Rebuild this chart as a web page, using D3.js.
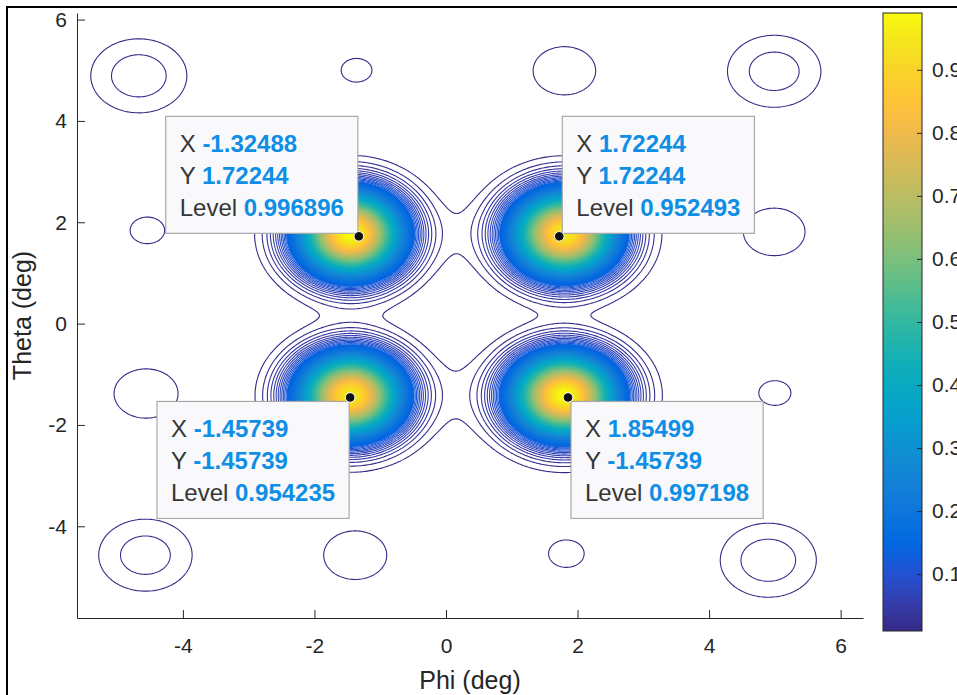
<!DOCTYPE html>
<html>
<head>
<meta charset="utf-8">
<script src="https://cdn.jsdelivr.net/npm/d3@7"></script>
<style>
  html, body { margin: 0; padding: 0; background: #fff; }
  svg { display: block; font-family: "Liberation Sans", Arial, Helvetica, sans-serif; }
</style>
</head>
<body>
<svg id="chart" width="957" height="695"></svg>
<script>
// ---- Beam pattern description (angles in degrees) ----
// Four main beams: centre, peak level and spread
const beamPhi         = [-1.45, 1.80, -1.45, 1.80];
const beamTheta       = [ 1.77, 1.77, -1.42, -1.42];
const beamPeak        = [ 1.00, 0.96,  0.96,  1.00];
const beamSpreadPhi   = [ 0.48, 0.49,  0.48,  0.49];
const beamSpreadTheta = [ 0.51, 0.51,  0.50,  0.50];

// Weak ridges joining neighbouring beams
const ridgePhi         = [0.175, 0.175, -1.39, 1.77];
const ridgeTheta       = [1.785, -1.39, 0.175, 0.175];
const ridgePeak        = [0.0060, 0.0068, 0.0025, 0.0005];
const ridgeSpreadPhi   = [0.30, 0.30, 0.60, 0.50];
const ridgeSpreadTheta = [0.55, 0.67, 0.35, 0.35];

// Side lobes
const sidePhi    = [-4.67, -1.36, 1.80, 4.99, -4.54, 4.99, -4.56, 5.00, -4.57, -1.38, 1.83, 4.90];
const sideTheta  = [ 4.89,  5.00, 4.99, 4.98,  1.84, 1.81, -1.38, -1.37, -4.57, -4.57, -4.54, -4.67];
const sidePeak   = [0.0276, 0.0110, 0.0153, 0.0261, 0.0113, 0.0151, 0.0156, 0.0111, 0.0261, 0.0154, 0.0114, 0.0276];
const sideSpread = 0.51;

// Data tips
const tipX     = [-1.32488, 1.72244, -1.45739, 1.85499];
const tipY     = [ 1.72244, 1.72244, -1.45739, -1.45739];
const tipLevel = [0.996896, 0.952493, 0.954235, 0.997198];

// Axes
const phiDomain   = [-5.61, 6.34];
const thetaDomain = [-5.81, 6.13];
const phiTicks    = [-4, -2, 0, 2, 4, 6];
const thetaTicks  = [-4, -2, 0, 2, 4, 6];
const colorTicks  = [0.1, 0.2, 0.3, 0.4, 0.5, 0.6, 0.7, 0.8, 0.9];

// Contour levels
const levelCount = 100;
const levelMax = 1.0;
const levels = d3.range(1, levelCount + 1).map(k => k * levelMax / (levelCount + 1));

// Parula colour map
const parulaStops = [
  [0.2081,0.1663,0.5292],[0.2081,0.2386,0.6771],[0.1253,0.3242,0.8303],[0.0060,0.4086,0.8828],
  [0.0498,0.4586,0.8641],[0.0779,0.5040,0.8384],[0.0641,0.5570,0.8240],[0.0265,0.6137,0.8135],
  [0.0228,0.6535,0.7768],[0.0590,0.6838,0.7254],[0.1453,0.7098,0.6646],[0.2586,0.7317,0.5954],
  [0.3953,0.7459,0.5244],[0.5300,0.7491,0.4661],[0.6473,0.7456,0.4188],[0.7525,0.7384,0.3768],
  [0.8507,0.7299,0.3360],[0.9450,0.7261,0.2886],[0.9990,0.7653,0.2164],[0.9789,0.8271,0.1633],
  [0.9589,0.8949,0.1132],[0.9763,0.9831,0.0538]
];

// ---- Layout ----
const W = 957, H = 695;
const plot = { left: 77, right: 863, top: 13, bottom: 618 };
const cbar = { left: 883, right: 922, top: 13, bottom: 631 };
const ink = "#262626";

const svg = d3.select("#chart");

const x = d3.scaleLinear().domain(phiDomain).range([plot.left, plot.right]);
const y = d3.scaleLinear().domain(thetaDomain).range([plot.bottom, plot.top]);

const parula = d3.scaleLinear()
  .domain(parulaStops.map((_, i) => i / (parulaStops.length - 1)))
  .range(parulaStops.map(c => d3.rgb(c[0] * 255, c[1] * 255, c[2] * 255)))
  .interpolate(d3.interpolateRgb)
  .clamp(true);
const cMin = levels[0], cMax = levels[levels.length - 1];
const levelColor = v => parula((v - cMin) / (cMax - cMin));

// ---- Field sampled on a grid ----
function field(p, t) {
  let z = 0;
  for (let k = 0; k < beamPhi.length; k++) {
    const u = (p - beamPhi[k]) / beamSpreadPhi[k], v = (t - beamTheta[k]) / beamSpreadTheta[k];
    z += beamPeak[k] * Math.exp(-0.5 * (u * u + v * v));
  }
  for (let k = 0; k < ridgePhi.length; k++) {
    const u = (p - ridgePhi[k]) / ridgeSpreadPhi[k], v = (t - ridgeTheta[k]) / ridgeSpreadTheta[k];
    z += ridgePeak[k] * Math.exp(-0.5 * (u * u + v * v));
  }
  for (let k = 0; k < sidePhi.length; k++) {
    const u = (p - sidePhi[k]) / sideSpread, v = (t - sideTheta[k]) / sideSpread;
    z += sidePeak[k] * Math.exp(-0.5 * (u * u + v * v));
  }
  return z;
}

const nx = 524, ny = 404;
const dPhi = (phiDomain[1] - phiDomain[0]) / (nx - 1);
const dTheta = (thetaDomain[1] - thetaDomain[0]) / (ny - 1);
const values = new Float64Array(nx * ny);
for (let j = 0; j < ny; j++) {
  const t = thetaDomain[1] - j * dTheta;
  for (let i = 0; i < nx; i++) {
    values[j * nx + i] = field(phiDomain[0] + i * dPhi, t);
  }
}

const contourSet = d3.contours().size([nx, ny]).thresholds(levels)(values);

const gridToScreen = d3.geoTransform({
  point(gx, gy) {
    this.stream.point(x(phiDomain[0] + (gx - 0.5) * dPhi), y(thetaDomain[1] - (gy - 0.5) * dTheta));
  }
});
const path = d3.geoPath(gridToScreen);

// ---- Drawing ----
svg.append("rect").attr("width", W).attr("height", H).attr("fill", "#fff");

svg.append("defs").append("clipPath").attr("id", "plot-clip")
  .append("rect")
  .attr("x", plot.left).attr("y", plot.top)
  .attr("width", plot.right - plot.left).attr("height", plot.bottom - plot.top);

const contourLayer = svg.append("g").attr("clip-path", "url(#plot-clip)");

// dense inner levels are painted as bands, every level is stroked
const fillFrom = 0.12;
contourLayer.append("g")
  .selectAll("path")
  .data(contourSet.filter(c => c.value >= fillFrom))
  .join("path")
  .attr("d", path)
  .attr("fill", d => levelColor(d.value))
  .attr("stroke", "none");

contourLayer.append("g")
  .selectAll("path")
  .data(contourSet)
  .join("path")
  .attr("d", path)
  .attr("fill", "none")
  .attr("stroke", d => levelColor(d.value))
  .attr("stroke-width", 1.1)
  .attr("stroke-linejoin", "round");

// Axes
const fmt = d => String(d);
const xAxis = svg.append("g")
  .attr("transform", `translate(0,${plot.bottom})`)
  .call(d3.axisBottom(x).tickValues(phiTicks).tickFormat(fmt).tickSizeInner(-8).tickSizeOuter(0).tickPadding(20));
const yAxis = svg.append("g")
  .attr("transform", `translate(${plot.left},0)`)
  .call(d3.axisLeft(y).tickValues(thetaTicks).tickFormat(fmt).tickSizeInner(-8).tickSizeOuter(0).tickPadding(10));

[xAxis, yAxis].forEach(g => {
  g.selectAll("path, line").attr("stroke", ink).attr("stroke-width", 1);
  g.selectAll("text").attr("fill", ink).style("font-size", "21px")
    .style("font-family", '"Liberation Sans", Arial, sans-serif');
});

svg.append("text")
  .attr("x", (plot.left + plot.right) / 2).attr("y", 689)
  .attr("text-anchor", "middle").attr("fill", ink)
  .style("font-size", "25px")
  .text("Phi (deg)");

svg.append("text")
  .attr("transform", `translate(31,${(plot.top + plot.bottom) / 2}) rotate(-90)`)
  .attr("text-anchor", "middle").attr("fill", ink)
  .style("font-size", "25px")
  .text("Theta (deg)");

// Colour bar
const cScale = d3.scaleLinear().domain([cMin, cMax]).range([cbar.bottom, cbar.top]);
const grad = svg.select("defs").append("linearGradient")
  .attr("id", "parula-grad").attr("x1", 0).attr("y1", 1).attr("x2", 0).attr("y2", 0);
d3.range(0, 65).forEach(i => {
  const f = i / 64;
  grad.append("stop").attr("offset", f).attr("stop-color", parula(f));
});
svg.append("rect")
  .attr("x", cbar.left).attr("y", cbar.top)
  .attr("width", cbar.right - cbar.left).attr("height", cbar.bottom - cbar.top)
  .attr("fill", "url(#parula-grad)")
  .attr("stroke", ink).attr("stroke-width", 1);

const cAxis = svg.append("g")
  .attr("transform", `translate(${cbar.right},0)`)
  .call(d3.axisRight(cScale).tickValues(colorTicks).tickFormat(fmt).tickSizeInner(-5).tickSizeOuter(0).tickPadding(10));
cAxis.select(".domain").remove();
cAxis.selectAll("line").attr("stroke", ink).attr("stroke-width", 1);
cAxis.selectAll("text").attr("fill", ink).style("font-size", "21px")
  .style("font-family", '"Liberation Sans", Arial, sans-serif');

// Data tips
const tipLayer = svg.append("g");
tipX.forEach((tx, i) => {
  const px = x(tx), py = y(tipY[i]);
  const g = tipLayer.append("g");
  const box = g.append("rect")
    .attr("fill", "#f9f9fb").attr("stroke", "#a9a9a9").attr("stroke-width", 1.2);
  const rows = [["X", String(tx)], ["Y", String(tipY[i])], ["Level", String(tipLevel[i])]];
  const texts = rows.map(r => {
    const t = g.append("text").style("font-size", "24px");
    t.append("tspan").attr("fill", "#363636").text(r[0] + " ");
    t.append("tspan").attr("fill", "#0f8ee6").attr("font-weight", "bold").text(r[1]);
    return t;
  });
  const wMax = d3.max(texts, t => t.node().getComputedTextLength());
  const bw = wMax + 28, bh = 117;
  const bx = tx < 0 ? px - 1 - bw : px + 3;
  const by = tipY[i] > 0 ? py - 3 - bh : py + 4;
  box.attr("x", bx).attr("y", by).attr("width", bw).attr("height", bh);
  const baselines = [36, 68, 99.5];
  texts.forEach((t, k) => t.attr("x", bx + 14).attr("y", by + baselines[k]));
  g.append("circle").attr("cx", px).attr("cy", py).attr("r", 4.8)
    .attr("fill", "#111").attr("stroke", "#fff").attr("stroke-width", 1);
});

// Figure frame
svg.append("rect")
  .attr("x", 7).attr("y", 7).attr("width", 1000).attr("height", 1000)
  .attr("fill", "none").attr("stroke", "#000").attr("stroke-width", 2);
</script>
</body>
</html>
